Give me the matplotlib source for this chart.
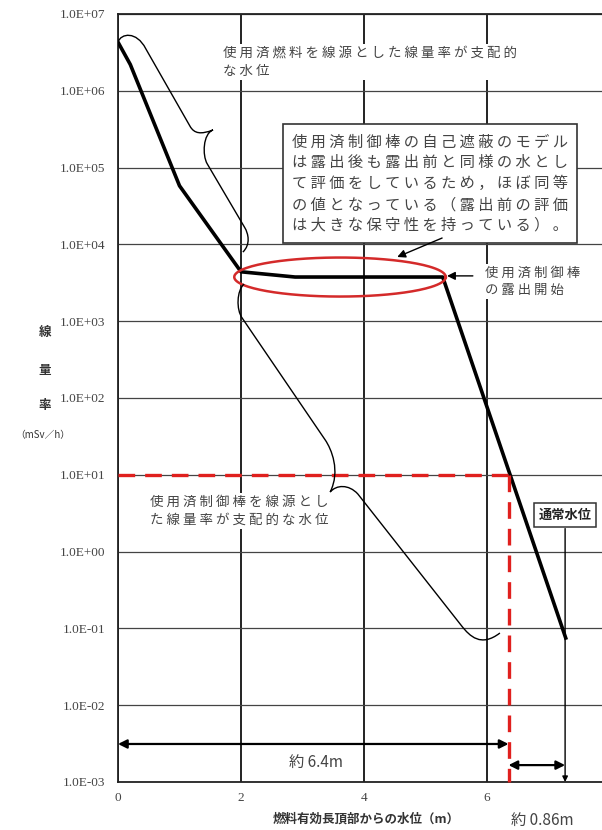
import numpy as np
import matplotlib
matplotlib.use('Agg')
import matplotlib.pyplot as plt
from matplotlib.path import Path
from matplotlib.patches import PathPatch
from matplotlib.ticker import NullLocator

plt.rcParams['font.family'] = ['Noto Sans CJK JP', 'DejaVu Sans']

# water level above top of active fuel (m) vs dose rate (mSv/h)
level = [0.0, 0.2, 1.0, 2.0, 2.88, 5.28, 7.28]
dose = [4.3e6, 2.2e6, 5.8e4, 4.4e3, 3.76e3, 3.76e3, 0.075]

ytick_vals = [1e-3, 1e-2, 1e-1, 1e0, 1e1, 1e2, 1e3, 1e4, 1e5, 1e6, 1e7]
ytick_labels = ['1.0E-03', '1.0E-02', '1.0E-01', '1.0E+00', '1.0E+01', '1.0E+02',
                '1.0E+03', '1.0E+04', '1.0E+05', '1.0E+06', '1.0E+07']
xtick_vals = [0, 2, 4, 6]

limit_dose = 10.0       # 10 mSv/h
limit_level = 6.35      # about 6.4 m
normal_level = 7.27     # normal water level
rod_start = 5.28        # control rods start to be exposed

# brace shapes in (x, log10 y)
upper_brace = [(0.00, 6.635), (0.05, 6.75), (0.30, 6.78), (0.45, 6.55),
               (1.17, 5.54), (1.24, 5.44), (1.35, 5.43), (1.545, 5.49),
               (1.38, 5.44), (1.37, 5.16), (1.45, 5.05),
               (2.06, 4.22), (2.12, 4.14), (2.16, 4.00), (2.03, 3.90)]
lower_brace = [(2.05, 3.484), (1.93, 3.40), (1.92, 3.15), (2.02, 3.04),
               (3.37, 1.453), (3.47, 1.335), (3.62, 1.05), (3.45, 0.776),
               (3.55, 0.87), (3.75, 0.88), (3.90, 0.75),
               (5.59, -0.97), (5.72, -1.10), (5.90, -1.25), (6.21, -1.06)]
brace_codes = [Path.MOVETO, Path.CURVE4, Path.CURVE4, Path.CURVE4,
               Path.LINETO, Path.CURVE4, Path.CURVE4, Path.CURVE4,
               Path.CURVE4, Path.CURVE4, Path.CURVE4,
               Path.LINETO, Path.CURVE4, Path.CURVE4, Path.CURVE4]


def sp(s):
    return '\n'.join(' '.join(line) for line in s.split('\n'))


fig = plt.figure(figsize=(6.02, 8.30), dpi=100)
ax = fig.add_axes([118 / 602, 48 / 830, 484 / 602, 768 / 830])
ax.set_yscale('log')
ax.set_ylim(1e-3, 1e7)
ax.set_xlim(0, 484 / 61.5)
ax.set_yticks(ytick_vals, ytick_labels)
ax.set_xticks(xtick_vals, [str(v) for v in xtick_vals])
ax.yaxis.set_minor_locator(NullLocator())
ax.tick_params(length=0, labelsize=9.5, colors='#444')
ax.tick_params(axis='y', pad=9)
ax.tick_params(axis='x', pad=7)
for lab in ax.get_xticklabels() + ax.get_yticklabels():
    lab.set_family('Liberation Serif')
ax.xaxis.grid(True, color='#222', lw=1.4)
ax.yaxis.grid(True, color='#444', lw=0.9)
ax.spines['right'].set_visible(False)
for s in ['left', 'top', 'bottom']:
    ax.spines[s].set_linewidth(1.3)
    ax.spines[s].set_color('#222')

# main curve
ax.plot(level, dose, color='black', lw=2.6, zorder=5, solid_joinstyle='round')

# 10 mSv/h limit
ax.plot([0, limit_level], [limit_dose, limit_dose], color='#e0201e', lw=2.4,
        dashes=(5, 3), zorder=6)
ax.plot([limit_level, limit_level], [limit_dose, 1e-3], color='#e0201e', lw=2.4,
        dashes=(5, 3), zorder=6, clip_on=False)

# ellipse around plateau
t = np.linspace(0, 2 * np.pi, 200)
ex = 3.61 + 1.72 * np.cos(t)
ey = 10 ** (3.575 + 0.254 * np.sin(t))
ax.plot(ex, ey, color='#d42a2a', lw=1.8, zorder=6)

# braces
for br in [upper_brace, lower_brace]:
    verts = [(x, 10 ** ly) for x, ly in br]
    ax.add_patch(PathPatch(Path(verts, brace_codes), fill=False, lw=1.0,
                           edgecolor='black', zorder=7))

txtc = '#444'
ax.text(1.71, 10 ** 6.375, sp('使用済燃料を線源とした線量率が支配的\nな水位'),
        fontsize=9.7, color=txtc, ha='left', va='center', linespacing=1.35,
        bbox=dict(boxstyle='square,pad=0.15', fc='white', ec='none'), zorder=4)

ax.text(2.83, 10 ** 4.79,
        sp('使用済制御棒の自己遮蔽のモデル\nは露出後も露出前と同様の水とし\n'
           'て評価をしているため，ほぼ同等\nの値となっている（露出前の評価\n'
           'は大きな保守性を持っている）。'),
        fontsize=11, color=txtc, ha='left', va='center', linespacing=1.3,
        bbox=dict(boxstyle='square,pad=0.6', fc='white', ec='#333', lw=1.2), zorder=8)

ax.text(5.97, 10 ** 3.52, sp('使用済制御棒\nの露出開始'), fontsize=9.6, color=txtc,
        ha='left', va='center', linespacing=1.3,
        bbox=dict(boxstyle='square,pad=0.15', fc='white', ec='none'), zorder=4)

ax.text(0.52, 10 ** 0.53, sp('使用済制御棒を線源とし\nた線量率が支配的な水位'),
        fontsize=9.7, color=txtc, ha='left', va='center', linespacing=1.3,
        bbox=dict(boxstyle='square,pad=0.15', fc='white', ec='none'), zorder=4)

arrow = dict(arrowstyle='-|>', color='black', lw=1.0, mutation_scale=12,
             shrinkA=0, shrinkB=0)
ax.annotate('', xy=(4.54, 10 ** 3.836), xytext=(5.27, 10 ** 4.083),
            arrowprops=arrow, zorder=9)
ax.annotate('', xy=(rod_start + 0.07, 10 ** 3.59), xytext=(5.77, 10 ** 3.59),
            arrowprops=arrow, zorder=9)

# normal water level marker
ax.text(normal_level, 10 ** 0.476, '通常水位', fontsize=9.5, color='#222',
        ha='center', va='center', fontweight='bold',
        bbox=dict(boxstyle='square,pad=0.35', fc='white', ec='#333', lw=1.1), zorder=8)
ax.annotate('', xy=(normal_level, 1e-3), xytext=(normal_level, 10 ** 0.30),
            arrowprops=dict(arrowstyle='-|>', color='black', lw=1.0,
                            mutation_scale=8, shrinkA=0, shrinkB=0), zorder=7)

# distance arrows
darrow = dict(arrowstyle='<|-|>', color='black', lw=1.6, mutation_scale=13,
              shrinkA=0, shrinkB=0)
ax.annotate('', xy=(0.0, 10 ** -2.505), xytext=(limit_level, 10 ** -2.505),
            arrowprops=darrow, zorder=9)
ax.annotate('', xy=(limit_level, 10 ** -2.78), xytext=(normal_level, 10 ** -2.78),
            arrowprops=darrow, zorder=9)
ax.text(3.22, 10 ** -2.74, '約 6.4m', fontsize=11, color=txtc, ha='center',
        va='center')
ax.annotate('約 0.86m', xy=(6.9, 1e-3), xytext=(0, -28), textcoords='offset points',
            fontsize=11, color=txtc, ha='center', va='center', annotation_clip=False)

# axis labels
for ch, py in zip('線量率', [332, 370, 405]):
    fig.text(45 / 602, 1 - py / 830, ch, fontsize=9, fontweight='bold',
             color='#333', ha='center', va='center')
fig.text(43 / 602, 1 - 435 / 830, '（mSv／h）', fontsize=7, color='#333',
         ha='center', va='center')
fig.text(366 / 602, 1 - 819 / 830, '燃料有効長頂部からの水位（m）', fontsize=9,
         fontweight='bold', color='#333', ha='center', va='center')

fig.savefig('out.png', dpi=100)
